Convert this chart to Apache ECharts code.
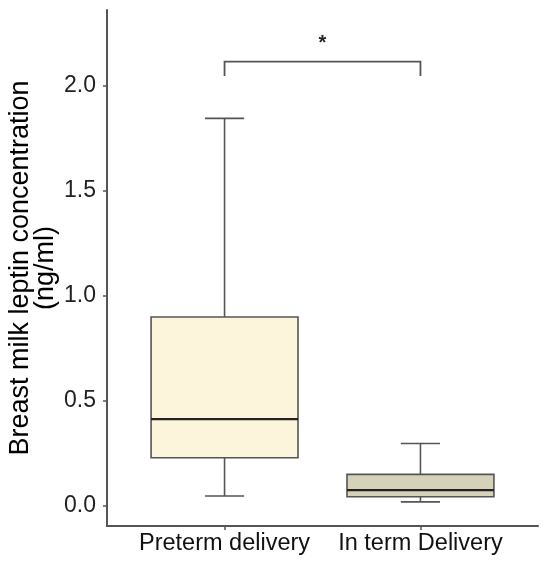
<!DOCTYPE html>
<html>
<head>
<meta charset="utf-8">
<script src="https://cdn.jsdelivr.net/npm/echarts@6/dist/echarts.min.js"></script>
<style>
  html, body { margin: 0; padding: 0; background: #fff; }
  #chart { width: 550px; height: 567px; }
</style>
</head>
<body>
<div id="chart"></div>
<script>
// groups and their five-number summaries
var categories = ['Preterm delivery', 'In term Delivery'];
var whiskerLow = [0.048, 0.02];
var q1 = [0.23, 0.044];
var medians = [0.414, 0.076];
var q3 = [0.90, 0.151];
var whiskerHigh = [1.846, 0.298];
var yTicks = [0, 0.5, 1.0, 1.5, 2.0];

// significance bracket between the two groups
var bracketGroups = [1, 2];
var bracketTop = 2.116;
var bracketFoot = 2.048;
var bracketLabel = '*';

var boxFill = ['#FDF5DB', '#D5D2B9'];

var boxData = [];
for (var i = 0; i < categories.length; i++) {
    boxData.push([i + 1, whiskerLow[i], q1[i], medians[i], q3[i], whiskerHigh[i]]);
}

var lineCol = '#555555';

function renderBox(params, api) {
    var x = api.value(0);
    var lo = api.coord([x, api.value(1)]);
    var b1 = api.coord([x, api.value(2)]);
    var md = api.coord([x, api.value(3)]);
    var b3 = api.coord([x, api.value(4)]);
    var hi = api.coord([x, api.value(5)]);
    var halfBox = api.size([0.75, 0])[0] / 2;
    var halfCap = api.size([0.2, 0])[0] / 2;
    var cx = lo[0];
    var ln = { stroke: lineCol, lineWidth: 1.6 };
    return {
        type: 'group',
        children: [
            { type: 'line', shape: { x1: cx, y1: b3[1], x2: cx, y2: hi[1] }, style: ln },
            { type: 'line', shape: { x1: cx - halfCap, y1: hi[1], x2: cx + halfCap, y2: hi[1] }, style: ln },
            { type: 'line', shape: { x1: cx, y1: b1[1], x2: cx, y2: lo[1] }, style: ln },
            { type: 'line', shape: { x1: cx - halfCap, y1: lo[1], x2: cx + halfCap, y2: lo[1] }, style: ln },
            { type: 'rect', shape: { x: cx - halfBox, y: b3[1], width: halfBox * 2, height: b1[1] - b3[1] },
              style: { fill: boxFill[params.dataIndex], stroke: lineCol, lineWidth: 1.6 } },
            { type: 'line', shape: { x1: cx - halfBox, y1: md[1], x2: cx + halfBox, y2: md[1] },
              style: { stroke: '#222', lineWidth: 2.4 } }
        ]
    };
}

function renderBracket(params, api) {
    var a = api.coord([bracketGroups[0], bracketFoot]);
    var at = api.coord([bracketGroups[0], bracketTop]);
    var bt = api.coord([bracketGroups[1], bracketTop]);
    var b = api.coord([bracketGroups[1], bracketFoot]);
    return {
        type: 'group',
        children: [
            { type: 'polyline', shape: { points: [a, at, bt, b] },
              style: { stroke: lineCol, lineWidth: 1.8, fill: null } },
            { type: 'text', x: (at[0] + bt[0]) / 2, y: at[1] - 8,
              style: { text: bracketLabel, fill: '#222', font: 'bold 20px "Liberation Sans", Arial',
                       align: 'center', verticalAlign: 'bottom' } }
        ]
    };
}

var myChart = echarts.init(document.getElementById('chart'));
myChart.setOption({
    animation: false,
    grid: { left: 107, right: 12, top: 10, bottom: 41, outerBoundsMode: 'none', containLabel: false },
    xAxis: {
        type: 'value',
        min: 0.4,
        max: 2.6,
        splitLine: { show: false },
        axisLine: { show: true, onZero: false, lineStyle: { color: lineCol, width: 2 } },
        axisTick: { show: true, length: 4, customValues: [1, 2], lineStyle: { color: lineCol, width: 1.5 } },
        axisLabel: {
            customValues: [1, 2],
            margin: 6,
            color: '#111',
            fontSize: 23.5,
            fontFamily: '"Liberation Sans", Arial',
            formatter: function (v) { return categories[Math.round(v) - 1]; }
        }
    },
    yAxis: {
        type: 'value',
        min: -0.095,
        max: 2.362,
        splitLine: { show: false },
        axisLine: { show: true, lineStyle: { color: lineCol, width: 2 } },
        axisTick: { show: true, length: 4, customValues: yTicks, lineStyle: { color: lineCol, width: 1.5 } },
        axisLabel: {
            customValues: yTicks,
            margin: 11,
            color: '#222',
            fontSize: 23,
            fontFamily: '"Liberation Sans", Arial',
            formatter: function (v) { return v.toFixed(1); }
        },
        name: 'Breast milk leptin concentration\n(ng/ml)',
        nameLocation: 'middle',
        nameGap: 49,
        nameMoveOverlap: false,
        nameTextStyle: {
            color: '#000',
            fontSize: 27,
            lineHeight: 25,
            fontFamily: '"Liberation Sans", Arial'
        }
    },
    series: [
        {
            type: 'custom',
            renderItem: renderBox,
            data: boxData,
            encode: { x: 0, y: [1, 2, 3, 4, 5] },
            z: 2
        },
        {
            type: 'custom',
            renderItem: renderBracket,
            data: [[bracketGroups[0], bracketTop]],
            z: 3
        }
    ]
});
</script>
</body>
</html>
